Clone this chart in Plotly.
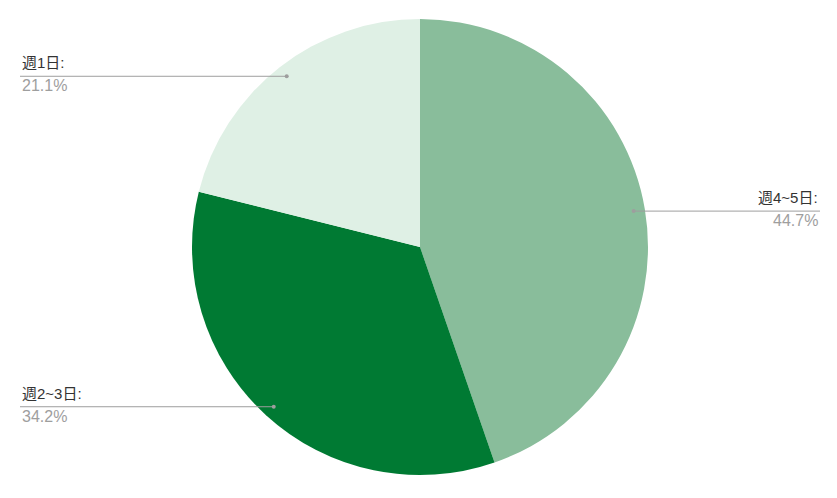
import math
import plotly.graph_objects as go

labels = ["週4~5日", "週2~3日", "週1日"]
values = [44.7, 34.2, 21.1]
colors = ["#89bd9b", "#007a33", "#dff0e5"]
label_side = ["right", "left", "left"]

W, H = 837, 498
ML, MR, MT, MB = 3, 0, 19, 23
pw, ph = W - ML - MR, H - MT - MB
cx, cy = ML + pw / 2, MT + ph / 2
R = min(pw, ph) / 2

def to_paper(px, py):
    return (px - ML) / pw, 1 - (py - MT) / ph

fig = go.Figure(go.Pie(
    labels=labels, values=values, sort=False, direction="clockwise", rotation=0,
    marker=dict(colors=colors, line=dict(width=0)),
    textinfo="none", hoverinfo="label+percent", showlegend=False,
))

shapes, annots = [], []
total = sum(values)
cum = 0
for lab, v, side in zip(labels, values, label_side):
    mid = (cum + v / 2) / total * 2 * math.pi
    cum += v
    dx, dy = math.sin(mid), -math.cos(mid)
    px, py = cx + 0.95 * R * dx, cy + 0.95 * R * dy
    x_end = 20 if side == "left" else 820
    x0, y0 = to_paper(px, py)
    x1, _ = to_paper(x_end, py)
    shapes.append(dict(type="line", xref="paper", yref="paper", x0=x0, y0=y0, x1=x1, y1=y0,
                       line=dict(color="#9e9e9e", width=1)))
    r = 2
    a0, b0 = to_paper(px - r, py + r)
    a1, b1 = to_paper(px + r, py - r)
    shapes.append(dict(type="circle", xref="paper", yref="paper", x0=a0, y0=b0, x1=a1, y1=b1,
                       fillcolor="#9e9e9e", line=dict(width=0)))
    anchor = "left" if side == "left" else "right"
    annots.append(dict(xref="paper", yref="paper", x=x1, y=y0, text=lab + ":", showarrow=False,
                       xanchor=anchor, yanchor="bottom", yshift=3,
                       font=dict(size=15, color="#333333")))
    annots.append(dict(xref="paper", yref="paper", x=x1, y=y0, text=f"{v:.1f}%", showarrow=False,
                       xanchor=anchor, yanchor="top", yshift=1,
                       font=dict(size=16, color="#9e9e9e")))

fig.update_layout(
    width=W, height=H,
    margin=dict(l=ML, r=MR, t=MT, b=MB),
    paper_bgcolor="white", plot_bgcolor="white",
    font=dict(family="'Liberation Sans', Arial, 'Noto Sans CJK JP', sans-serif"),
    shapes=shapes, annotations=annots,
)
fig.write_html("out.html", config={"displayModeBar": False},
               post_script="document.body.style.margin='0';document.body.style.padding='0';")
